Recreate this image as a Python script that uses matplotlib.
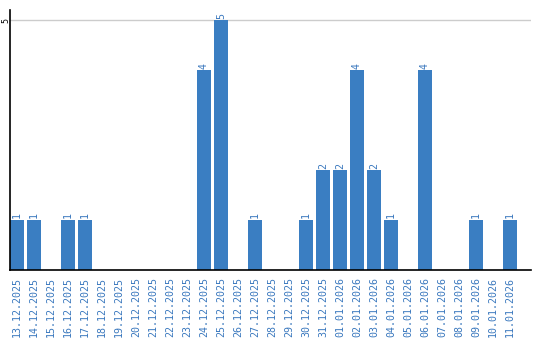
import matplotlib
matplotlib.use('Agg')
import matplotlib.pyplot as plt

# Daily counts, 13.12.2025 - 11.01.2026
dates = [
    '13.12.2025', '14.12.2025', '15.12.2025', '16.12.2025', '17.12.2025',
    '18.12.2025', '19.12.2025', '20.12.2025', '21.12.2025', '22.12.2025',
    '23.12.2025', '24.12.2025', '25.12.2025', '26.12.2025', '27.12.2025',
    '28.12.2025', '29.12.2025', '30.12.2025', '31.12.2025', '01.01.2026',
    '02.01.2026', '03.01.2026', '04.01.2026', '05.01.2026', '06.01.2026',
    '07.01.2026', '08.01.2026', '09.01.2026', '10.01.2026', '11.01.2026',
]
counts = [1, 1, 0, 1, 1, 0, 0, 0, 0, 0,
          0, 4, 5, 0, 1, 0, 0, 1, 2, 2,
          4, 2, 1, 0, 4, 0, 0, 1, 0, 1]
y_ticks = [5]

BLUE = '#3a7ec2'
TEXT_BLUE = '#3a78be'

fig = plt.figure(figsize=(5.4, 3.4), dpi=100)
ax = fig.add_axes([10 / 540, 70 / 340, 521 / 540, 260 / 340])

x = list(range(len(dates)))
ax.bar(x, counts, width=14 / 17, color=BLUE, zorder=2)

for xi, c in zip(x, counts):
    if c > 0:
        ax.text(xi, c + 0.03, str(c), rotation=90, ha='center', va='bottom',
                color=TEXT_BLUE, fontsize=7.2, family='DejaVu Sans Mono')

ax.set_xlim(-7 / 17, 29 + 21 / 17)
ax.set_ylim(0, 5.2)

ax.set_yticks(y_ticks)
ax.set_yticklabels([str(v) for v in y_ticks], rotation=90, va='center',
                   fontsize=6, family='DejaVu Sans Mono')
ax.yaxis.grid(True, color='#cccccc', linewidth=1, zorder=0)

ax.set_xticks(x)
ax.set_xticklabels(dates, rotation=90, color=TEXT_BLUE, fontsize=7.2,
                   family='DejaVu Sans Mono', va='top')
ax.tick_params(axis='both', length=0)
ax.tick_params(axis='x', pad=5)
ax.tick_params(axis='y', pad=0)

for side in ('top', 'right'):
    ax.spines[side].set_visible(False)
for side in ('left', 'bottom'):
    ax.spines[side].set_color('black')
    ax.spines[side].set_linewidth(1.2)

fig.savefig('out.png', dpi=100)
